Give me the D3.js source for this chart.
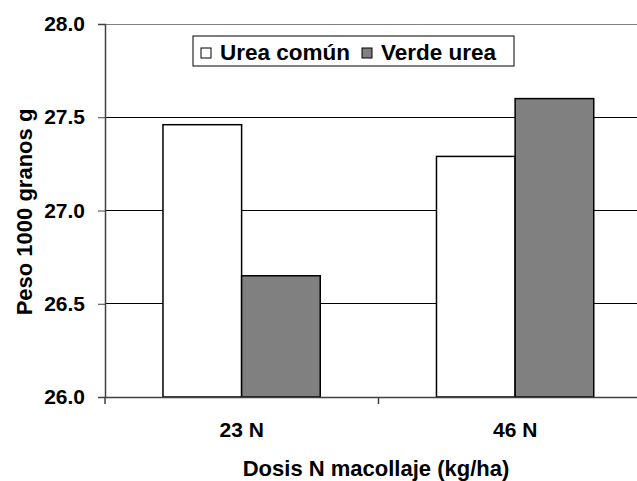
<!DOCTYPE html>
<html lang="es">
  <head>
    <meta charset="UTF-8" />
    <title>Peso 1000 granos</title>
    <style>
      body { margin: 0; background: #fff; }
      text { font-family: "Liberation Sans", Arial, sans-serif; font-weight: bold; fill: #000; }
    </style>
  </head>
  <body>
    <svg id="chart" width="637" height="481"></svg>
    <script src="https://cdn.jsdelivr.net/npm/d3@7"></script>
    <script>
      const categories = ["23 N", "46 N"];
      const series = ["Urea común", "Verde urea"];
      const ureaComun = [27.46, 27.29];
      const verdeUrea = [26.65, 27.6];
      const yTicks = [26.0, 26.5, 27.0, 27.5, 28.0];
      const colors = ["#ffffff", "#808080"];

      const svg = d3.select("#chart");
      const plotLeft = 105, plotTop = 24, plotBottom = 397;
      // the plot runs past the right edge of the picture, as in the original
      const plotRight = 652;

      const x = d3.scaleBand().domain(categories).range([plotLeft, plotRight]);
      const y = d3.scaleLinear().domain([26, 28]).range([plotBottom, plotTop]);

      // gridlines
      svg.append("g")
        .selectAll("line")
        .data(yTicks.slice(1))
        .enter()
        .append("line")
        .attr("x1", plotLeft).attr("x2", plotRight)
        .attr("y1", (d) => y(d)).attr("y2", (d) => y(d))
        .attr("stroke", (d) => (d === 28 ? "#808080" : "#000"))
        .attr("stroke-width", 1)
        .attr("shape-rendering", "crispEdges");

      // bars
      const values = [ureaComun, verdeUrea];
      const bw = x.bandwidth();
      series.forEach((s, si) => {
        svg.append("g")
          .selectAll("rect")
          .data(categories)
          .enter()
          .append("rect")
          .attr("x", (c) => x(c) + bw * (0.212 + si * 0.2875))
          .attr("width", bw * 0.2875)
          .attr("y", (c, i) => y(values[si][i]))
          .attr("height", (c, i) => plotBottom - y(values[si][i]))
          .attr("fill", colors[si])
          .attr("stroke", "#000")
          .attr("stroke-width", 1.5);
      });

      // y axis
      const yAxis = svg.append("g")
        .attr("transform", `translate(${plotLeft},0)`)
        .call(d3.axisLeft(y).tickValues(yTicks).tickFormat(d3.format(".1f")).tickSize(7).tickPadding(13));
      yAxis.select(".domain").attr("stroke", "#404040").attr("stroke-width", 1.5);
      yAxis.selectAll(".tick line").attr("stroke", "#404040");
      yAxis.selectAll("text")
        .style("font-size", "21px")
        .style("font-family", '"Liberation Sans", Arial, sans-serif')
        .style("font-weight", "bold")
        .attr("fill", "#000");

      // x axis
      const xAxis = svg.append("g")
        .attr("transform", `translate(0,${plotBottom})`)
        .call(d3.axisBottom(x).tickSize(0));
      xAxis.select(".domain").attr("stroke", "#404040").attr("stroke-width", 1.5);
      xAxis.selectAll("text")
        .attr("y", 40).attr("dy", null)
        .style("font-size", "21px")
        .style("font-family", '"Liberation Sans", Arial, sans-serif')
        .style("font-weight", "bold")
        .attr("fill", "#000");
      // separators between categories
      svg.append("g")
        .selectAll("line")
        .data(categories)
        .enter()
        .append("line")
        .attr("x1", (c) => x(c)).attr("x2", (c) => x(c))
        .attr("y1", plotBottom).attr("y2", plotBottom + 7)
        .attr("stroke", "#404040")
        .attr("stroke-width", 1.5);

      // axis titles
      svg.append("text")
        .attr("x", 376).attr("y", 476)
        .attr("text-anchor", "middle")
        .style("font-size", "22px")
        .text("Dosis N macollaje (kg/ha)");
      svg.append("text")
        .attr("transform", "translate(32,212) rotate(-90)")
        .attr("text-anchor", "middle")
        .style("font-size", "22px")
        .text("Peso 1000 granos g");

      // legend
      const legend = svg.append("g");
      legend.append("rect")
        .attr("x", 193).attr("y", 36).attr("width", 321).attr("height", 30)
        .attr("fill", "#fff").attr("stroke", "#000").attr("stroke-width", 1);
      const legendX = [201, 362];
      series.forEach((s, i) => {
        legend.append("rect")
          .attr("x", legendX[i]).attr("y", 48).attr("width", 10).attr("height", 10)
          .attr("fill", colors[i]).attr("stroke", "#000").attr("stroke-width", 1);
        legend.append("text")
          .attr("x", legendX[i] + 19).attr("y", 60)
          .style("font-size", "22.5px")
          .text(s);
      });
    </script>
  </body>
</html>
